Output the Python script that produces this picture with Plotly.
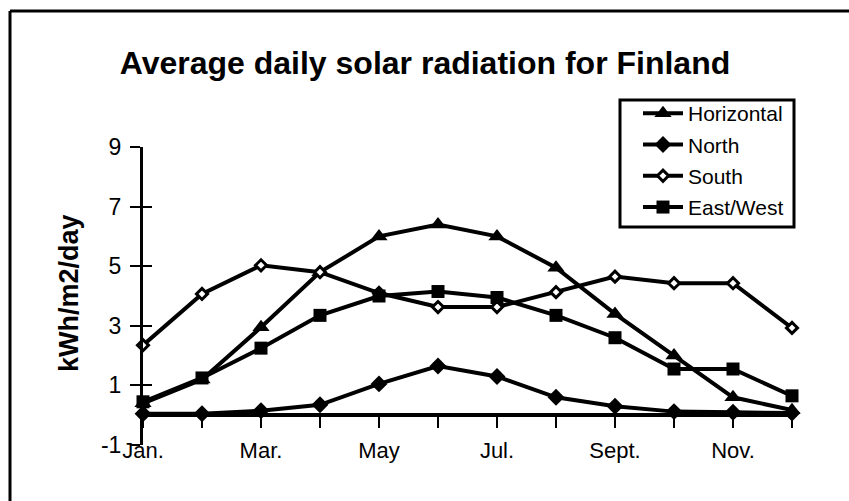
import plotly.graph_objects as go

months = ["Jan.", "Feb.", "Mar.", "Apr.", "May", "Jun.", "Jul.", "Aug.", "Sept.", "Oct.", "Nov.", "Dec."]
tick_text = ["Jan.", "", "Mar.", "", "May", "", "Jul.", "", "Sept.", "", "Nov.", ""]
y_ticks = [-1, 1, 3, 5, 7, 9]
y_tick_text = ["-1", "1", "3", "5", "7", "9"]

horizontal = [0.4, 1.2, 2.95, 4.8, 6.0, 6.4, 6.0, 4.95, 3.4, 2.0, 0.6, 0.17]
north = [0.05, 0.05, 0.15, 0.35, 1.05, 1.65, 1.3, 0.6, 0.3, 0.12, 0.1, 0.07]
south = [2.35, 4.07, 5.03, 4.8, 4.1, 3.63, 3.63, 4.13, 4.65, 4.43, 4.43, 2.93]
east_west = [0.45, 1.25, 2.25, 3.35, 4.0, 4.15, 3.95, 3.35, 2.6, 1.55, 1.55, 0.65]

W, H = 849, 501
L, R, T, B = 143, 57, 147, 56
pw, ph = W - L - R, H - T - B

def px(x):
    return (x - L) / pw

def py(y):
    return (H - B - y) / ph

xs = list(range(len(months)))
fig = go.Figure()
series = [
    ("Horizontal", horizontal, dict(symbol="triangle-up", size=15, color="black")),
    ("North", north, dict(symbol="diamond", size=13, color="black")),
    ("South", south, dict(symbol="diamond", size=8.5, color="white", line=dict(color="black", width=3))),
    ("East/West", east_west, dict(symbol="square", size=13, color="black")),
]
for name, vals, mk in series:
    fig.add_trace(go.Scatter(
        x=xs, y=vals, name=name, mode="lines+markers",
        line=dict(color="black", width=4), marker=mk,
        cliponaxis=False, legendgroup=name,
    ))

fig.update_layout(
    width=W, height=H,
    margin=dict(l=L, r=R, t=T, b=B, autoexpand=False),
    paper_bgcolor="white", plot_bgcolor="white",
    font=dict(family="Liberation Sans, Arial, sans-serif", color="black"),
    title=dict(text="<b>Average daily solar radiation for Finland</b>",
               x=px(425), xref="paper", xanchor="center",
               y=1 - 63 / H, yanchor="middle",
               font=dict(size=32, color="black")),
    showlegend=True,
    legend=dict(
        x=px(638), xanchor="left", y=py(93), yanchor="top",
        borderwidth=0, bgcolor="rgba(0,0,0,0)",
        font=dict(size=21, color="black"), tracegroupgap=1,
        itemwidth=40,
    ),
    xaxis=dict(
        range=[0, 11], tickmode="array", tickvals=xs, ticktext=tick_text,
        anchor="free", position=py(415),
        showline=True, linecolor="black", linewidth=4,
        ticks="outside", ticklen=11, tickwidth=2, tickcolor="black",
        ticklabelstandoff=4,
        showgrid=False, zeroline=False, tickfont=dict(size=22),
    ),
    yaxis=dict(
        range=[-1, 9], tickmode="array", tickvals=y_ticks, ticktext=y_tick_text,
        showline=True, linecolor="black", linewidth=3,
        ticks="outside", ticklen=10, tickwidth=2, tickcolor="black",
        ticklabelstandoff=4,
        showgrid=False, zeroline=False, tickfont=dict(size=23),
    ),
    yaxis2=dict(
        range=[-1, 9], overlaying="y", side="left", tickmode="array",
        tickvals=[1, 3, 5, 7, 9], showticklabels=False,
        ticks="inside", ticklen=9, tickwidth=2, tickcolor="black",
        showgrid=False, zeroline=False, showline=False,
    ),
)
fig.add_trace(go.Scatter(x=[None], y=[None], yaxis="y2", showlegend=False, hoverinfo="skip"))

fig.add_annotation(text="<b>kWh/m2/day</b>", xref="paper", yref="paper",
                   x=px(69), y=py(293), xanchor="center", yanchor="middle",
                   textangle=-90, showarrow=False, font=dict(size=27, color="black"))

# legend frame
fig.add_shape(type="rect", xref="paper", yref="paper",
              x0=px(620), x1=px(794), y0=py(227), y1=py(100),
              line=dict(color="black", width=3))
# outer frame (top and left edges)
fig.add_shape(type="line", xref="paper", yref="paper",
              x0=px(10), x1=px(W), y0=py(11), y1=py(11),
              line=dict(color="black", width=3))
fig.add_shape(type="line", xref="paper", yref="paper",
              x0=px(10), x1=px(10), y0=py(11), y1=py(H),
              line=dict(color="black", width=3))

fig.write_html("out.html", config={"displayModeBar": False},
               post_script="document.body.style.margin='0';document.body.style.overflow='hidden';")
